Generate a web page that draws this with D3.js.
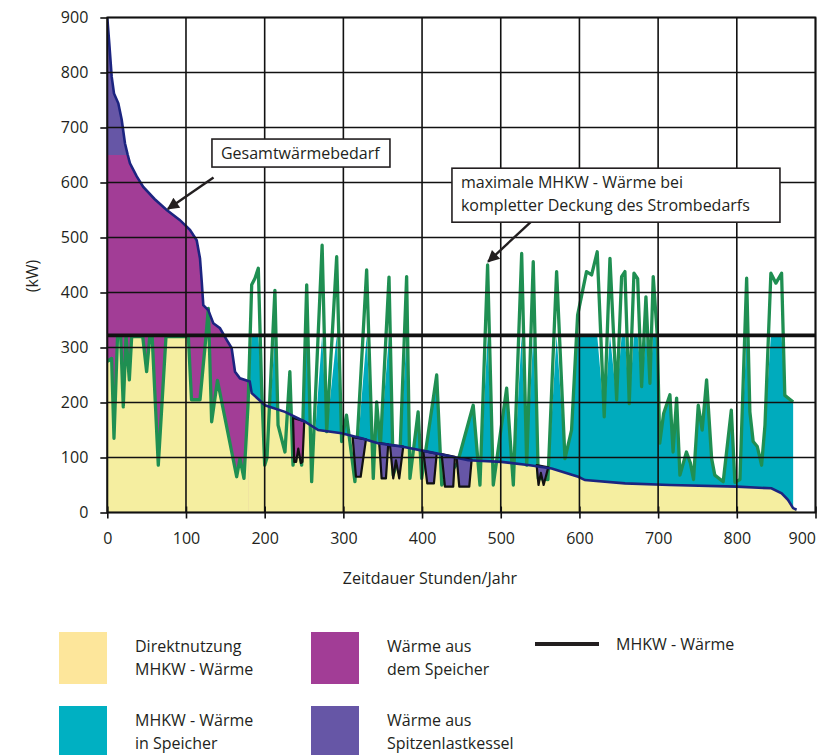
<!DOCTYPE html>
<html lang="de">
<head>
<meta charset="utf-8">
<title>Waermebedarf Dauerlinie</title>
<script src="https://d3js.org/d3.v7.min.js"></script>
<style>
  body { margin: 0; background: #fff; }
  svg text { font-family: "Open Sans", sans-serif; fill: #231f20; }
  .tick text { font-size: 16px; }
  .axis-title { font-size: 16px; }
  .legend text { font-size: 16px; }
  .note text { font-size: 16px; }
  .grid line { stroke: #111; stroke-width: 1.6px; }
</style>
</head>
<body>
<div id="vis"></div>
<script>
// tick labels
const xTicks = [0, 100, 200, 300, 400, 500, 600, 700, 800, 900];
const yTicks = [0, 100, 200, 300, 400, 500, 600, 700, 800, 900];

// Gesamtwärmebedarf  [Stunden, kW]
const demand = [
  [0, 900], [2.5, 853], [5.6, 792], [8.5, 762], [14, 744], [18.3, 714], [22.5, 671],
  [26, 650], [28.8, 635], [37.4, 611], [45.7, 592], [60, 570], [75.5, 550], [92, 532],
  [105, 514], [113.6, 495], [117.8, 462], [120, 420], [122, 377], [128.3, 368],
  [134.7, 344], [143.2, 335], [151.7, 314], [158, 299], [162.3, 256], [168.6, 244],
  [181, 238], [183.5, 217], [200.4, 195], [225.8, 183], [251.2, 165], [268, 150],
  [297.8, 144], [323, 135], [344, 126], [359, 123], [374, 120], [416.4, 108],
  [458.7, 95], [501, 92], [537, 86], [564.7, 80], [598.5, 65], [607, 59], [658, 53],
  [715, 50], [800, 47], [844, 44], [857, 35], [865, 23], [871.5, 8], [876, 5]
];

// maximale MHKW-Wärme bei kompletter Deckung des Strombedarfs  [Stunden, kW]
const mhkwMax = [
  [0, 275], [5.5, 280], [8.5, 135], [13, 320], [17, 320], [20.3, 192], [23.8, 320],
  [28, 241], [31, 320], [45, 320], [50, 256], [54, 320], [57, 320], [64.8, 86],
  [74.6, 320], [103, 320], [107, 205], [117.8, 205], [125.4, 320], [128.4, 371],
  [132.6, 165], [137, 210], [140, 240], [164.4, 65], [168.6, 98], [173.7, 62],
  [179, 200], [183.5, 414], [187.7, 426], [191.9, 444], [196, 232], [200, 86],
  [203, 100], [213, 404], [217, 159], [225.8, 110], [232, 256], [236, 86], [241, 150],
  [247, 86], [253.4, 414], [259.7, 56], [273, 486], [278.8, 147], [291.5, 465],
  [297.8, 129], [304, 177], [314.7, 56], [329.6, 441], [338, 62], [342.3, 201],
  [347, 120], [358, 428], [363.4, 68], [372, 110], [380.4, 429], [384.6, 62],
  [395, 183], [399.5, 62], [418.6, 250], [425, 50], [445, 90], [465, 195],
  [473.6, 50], [483.3, 450], [490.5, 50], [507.5, 226], [516, 50], [526.6, 471],
  [533, 86], [541.3, 456], [547.7, 62], [560, 60], [571, 438], [581.6, 98],
  [590, 150], [597.7, 359], [609, 438], [615.5, 432], [622.6, 474], [631.5, 174],
  [638.8, 462], [647.3, 205], [653.6, 429], [657.8, 438], [663.3, 198], [669.3, 435],
  [674, 425], [679, 229], [684.5, 392], [689.6, 235], [693.8, 429], [699, 320],
  [702, 126], [707, 180], [715, 214], [719, 110], [723.5, 208], [727.7, 68],
  [736, 110], [741, 90], [745, 60], [751, 195], [756, 150], [761.6, 241], [768, 98],
  [772, 68], [782.7, 56], [793, 186], [797.6, 55], [804, 60], [812.5, 426],
  [816.6, 183], [820.8, 129], [826, 120], [831.5, 86], [835.8, 159], [843.3, 435],
  [849.7, 417], [856.9, 435], [861, 213], [871.6, 201]
];

const mhkwLevel = 322;      // MHKW - Wärme
const storageLevel = 650;   // obere Grenze Speicherentladung
const splitHour = 180;      // Ende der Speicherentladung am Anfang

// Wärme aus dem Speicher (umrandeter Block)
const storageBlocks = [
  [[236, 172], [237.6, 92], [240, 92], [242.7, 116], [246, 90], [248, 92], [250.3, 166]]
];

// Wärme aus Spitzenlastkessel
const boilerBlocks = [
  [[311.8, 137], [316, 65], [322, 65], [328.7, 133]],
  [[345.6, 126], [348.6, 62], [354.1, 62], [357, 124]],
  [[359.2, 123], [363.4, 62], [366.8, 95], [371, 62], [376.1, 120]],
  [[401.5, 112], [406.6, 53], [415.1, 53], [418.6, 107]],
  [[424.9, 106], [429.1, 47], [439.6, 47], [441.8, 101]],
  [[444, 100], [447.3, 47], [460, 47], [463, 96]],
  [[545.6, 86], [548, 50], [551, 72], [554.5, 50], [560.4, 82]]
];

const legendItems = [
  {type: "rect", color: "#fde69b", lines: ["Direktnutzung", "MHKW - Wärme"], col: 0, row: 0},
  {type: "rect", color: "#a23d96", lines: ["Wärme aus", "dem Speicher"], col: 1, row: 0},
  {type: "line", color: "#231f20", lines: ["MHKW - Wärme"], col: 2, row: 0},
  {type: "rect", color: "#00b0c2", lines: ["MHKW - Wärme", "in Speicher"], col: 0, row: 1},
  {type: "rect", color: "#6656a6", lines: ["Wärme aus", "Spitzenlastkessel"], col: 1, row: 1}
];

const width = 835, height = 755;
const margin = {top: 17.5, right: 20, bottom: 242.5, left: 107.3};
const plotW = 815.5 - margin.left;
const plotH = height - margin.top - margin.bottom;

const col = {
  yellow: "#f5eea0", magenta: "#a23d96", cyan: "#00abbd", violet: "#6656a6",
  green: "#1f8f52", navy: "#1c2480", black: "#111"
};

const svg = d3.select("#vis").append("svg")
  .attr("width", width).attr("height", height);

const x = d3.scaleLinear().domain([0, 900]).range([margin.left, margin.left + plotW]);
const y = d3.scaleLinear().domain([0, 900]).range([margin.top + plotH, margin.top]);

const defs = svg.append("defs");
defs.append("clipPath").attr("id", "plotClip").append("rect")
  .attr("x", x(0)).attr("y", y(900)).attr("width", plotW).attr("height", plotH);
defs.append("clipPath").attr("id", "leftClip").append("rect")
  .attr("x", x(0)).attr("y", y(900)).attr("width", x(splitHour) - x(0)).attr("height", plotH);
defs.append("clipPath").attr("id", "rightClip").append("rect")
  .attr("x", x(splitHour)).attr("y", y(900)).attr("width", x(900) - x(splitHour)).attr("height", plotH);

const underDemand = d3.area().x(d => x(d[0])).y0(y(0)).y1(d => y(d[1]));
defs.append("clipPath").attr("id", "demandClip").append("path")
  .attr("d", underDemand(demand));

defs.append("marker").attr("id", "arrow")
  .attr("viewBox", "0 0 10 10").attr("refX", 9).attr("refY", 5)
  .attr("markerWidth", 6).attr("markerHeight", 5).attr("orient", "auto")
  .attr("markerUnits", "strokeWidth")
  .append("path").attr("d", "M0,0 L10,5 L0,10 z").attr("fill", "#231f20");

const plot = svg.append("g").attr("clip-path", "url(#plotClip)");

// Wärme aus dem Speicher (unter dem Bedarf, bis Speichergrenze)
plot.append("g").attr("clip-path", "url(#leftClip)")
  .append("path")
  .attr("fill", col.magenta)
  .attr("d", d3.area().x(d => x(d[0])).y0(y(0)).y1(d => y(Math.min(d[1], storageLevel)))(demand));

// Spitzenlastkessel oberhalb der Speichergrenze
plot.append("path")
  .attr("fill", col.violet)
  .attr("d", d3.area().x(d => x(d[0])).y0(y(storageLevel))
    .y1(d => y(Math.max(d[1], storageLevel)))(demand.filter(d => d[0] <= 40)));

// MHKW - Wärme in Speicher
plot.append("g").attr("clip-path", "url(#rightClip)")
  .append("path")
  .attr("fill", col.cyan)
  .attr("d", d3.area().x(d => x(d[0])).y0(y(0)).y1(d => y(Math.min(d[1], mhkwLevel)))(mhkwMax));

// Direktnutzung links (unter MHKW-Linie und Bedarf)
plot.append("g").attr("clip-path", "url(#leftClip)")
  .append("g").attr("clip-path", "url(#demandClip)")
  .append("path")
  .attr("fill", col.yellow)
  .attr("d", d3.area().x(d => x(d[0])).y0(y(0)).y1(d => y(Math.min(d[1], mhkwLevel)))(mhkwMax));

// Direktnutzung rechts
plot.append("g").attr("clip-path", "url(#rightClip)")
  .append("path")
  .attr("fill", col.yellow)
  .attr("d", d3.area().x(d => x(d[0])).y0(y(0)).y1(d => y(Math.min(d[1], mhkwLevel)))(demand));

// grid
const grid = svg.append("g").attr("class", "grid");
grid.selectAll(".gx").data(xTicks).join("line")
  .attr("x1", d => x(d)).attr("x2", d => x(d)).attr("y1", y(0)).attr("y2", y(900));
grid.selectAll(".gy").data(yTicks).join("line")
  .attr("x1", x(0)).attr("x2", x(900)).attr("y1", d => y(d)).attr("y2", d => y(d));

// maximale MHKW-Wärme
plot.append("path")
  .attr("fill", "none").attr("stroke", col.green).attr("stroke-width", 3.3)
  .attr("stroke-linejoin", "round")
  .attr("d", d3.line().x(d => x(d[0])).y(d => y(d[1]))(mhkwMax));

const blockLine = d3.line().x(d => x(d[0])).y(d => y(d[1]));
plot.selectAll(".sblock").data(storageBlocks).join("path")
  .attr("fill", col.magenta).attr("stroke", col.black).attr("stroke-width", 2.2)
  .attr("stroke-linejoin", "round")
  .attr("d", d => blockLine(d) + "Z");
plot.selectAll(".bblock").data(boilerBlocks).join("path")
  .attr("fill", col.violet).attr("stroke", col.black).attr("stroke-width", 2.2)
  .attr("stroke-linejoin", "round")
  .attr("d", d => blockLine(d) + "Z");

// Gesamtwärmebedarf
plot.append("path")
  .attr("fill", "none").attr("stroke", col.navy).attr("stroke-width", 2.6)
  .attr("d", d3.line().x(d => x(d[0])).y(d => y(d[1]))(demand));

// MHKW - Wärme
svg.append("line")
  .attr("x1", x(0)).attr("x2", x(900)).attr("y1", y(mhkwLevel)).attr("y2", y(mhkwLevel))
  .attr("stroke", col.black).attr("stroke-width", 3.6);

// frame
svg.append("rect")
  .attr("x", x(0)).attr("y", y(900)).attr("width", plotW).attr("height", plotH)
  .attr("fill", "none").attr("stroke", col.black).attr("stroke-width", 1.8);

// axes
const yAxis = svg.append("g").attr("transform", `translate(${x(0)},0)`)
  .call(d3.axisLeft(y).tickValues(yTicks).tickSize(7).tickPadding(12));
const xAxis = svg.append("g").attr("transform", `translate(0,${y(0)})`)
  .call(d3.axisBottom(x).tickValues(xTicks).tickSize(6).tickPadding(14));
[yAxis, xAxis].forEach(a => {
  a.select(".domain").remove();
  a.selectAll(".tick line").attr("stroke", col.black).attr("stroke-width", 1.6);
});
xAxis.selectAll(".tick line").attr("y1", -6);
xAxis.selectAll(".tick text").attr("dy", "0.71em");
xAxis.selectAll(".tick text").filter(d => d === 900)
  .attr("text-anchor", "end").attr("x", 0);
svg.selectAll(".tick text").attr("font-family", null);

svg.append("text").attr("class", "axis-title")
  .attr("transform", `translate(38,${y(430)}) rotate(-90)`)
  .attr("text-anchor", "middle").text("(kW)");
svg.append("text").attr("class", "axis-title")
  .attr("x", x(410)).attr("y", 584)
  .attr("text-anchor", "middle").text("Zeitdauer Stunden/Jahr");

// Beschriftungen mit Pfeil
const notes = [
  {lines: ["Gesamtwärmebedarf"], box: [133, 679], w: 178, h: 28, from: [135, 609], to: [77, 552]},
  {lines: ["maximale MHKW - Wärme bei", "kompletter Deckung des Strombedarfs"],
   box: [438, 626], w: 328, h: 54, from: [538, 528], to: [484, 456]}
];
const noteG = svg.append("g").attr("class", "note");
notes.forEach(n => {
  const g = noteG.append("g");
  g.append("line")
    .attr("x1", x(n.from[0])).attr("y1", y(n.from[1]))
    .attr("x2", x(n.to[0])).attr("y2", y(n.to[1]))
    .attr("stroke", "#231f20").attr("stroke-width", 2.4)
    .attr("marker-end", "url(#arrow)");
  g.append("rect")
    .attr("x", x(n.box[0])).attr("y", y(n.box[1]))
    .attr("width", n.w).attr("height", n.h)
    .attr("fill", "#fff").attr("stroke", "#231f20").attr("stroke-width", 1.6);
  n.lines.forEach((t, i) => {
    g.append("text")
      .attr("x", x(n.box[0]) + 9)
      .attr("y", y(n.box[1]) + 20 + i * 23)
      .text(t);
  });
});

// legend
const legend = svg.append("g").attr("class", "legend");
const colX = [59, 311, 535];
const rowY = [632, 706];
legendItems.forEach(it => {
  const g = legend.append("g")
    .attr("transform", `translate(${colX[it.col]},${rowY[it.row]})`);
  if (it.type === "rect") {
    g.append("rect").attr("width", 48).attr("height", 52).attr("fill", it.color);
    it.lines.forEach((t, i) => {
      g.append("text").attr("x", 76).attr("y", 20 + i * 23).text(t);
    });
  } else {
    g.append("line").attr("x1", 0).attr("x2", 64).attr("y1", 12).attr("y2", 12)
      .attr("stroke", it.color).attr("stroke-width", 4);
    it.lines.forEach((t, i) => {
      g.append("text").attr("x", 81).attr("y", 18 + i * 23).text(t);
    });
  }
});
</script>
</body>
</html>
